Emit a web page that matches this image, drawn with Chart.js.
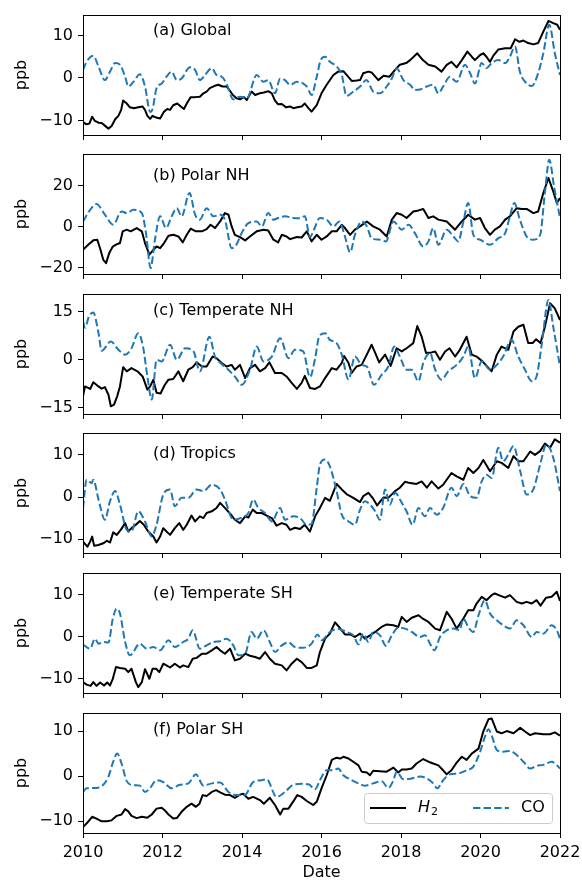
<!DOCTYPE html>
<html>
<head>
<meta charset="utf-8">
<script src="https://cdn.jsdelivr.net/npm/chart.js@4.4.1/dist/chart.umd.min.js"></script>
<style>
  body { margin: 0; background: #fff; width: 582px; height: 881px; position: relative; overflow: hidden; }
  canvas { position: absolute; left: 0; }
</style>
</head>
<body>
<script>
// Panels and axes
const panelNames = ['(a) Global', '(b) Polar NH', '(c) Temperate NH', '(d) Tropics', '(e) Temperate SH', '(f) Polar SH'];
const xTicks = [2010, 2012, 2014, 2016, 2018, 2020, 2022];
const yTicks = [[-10, 0, 10], [-20, 0, 20], [-15, 0, 15], [-10, 0, 10], [-10, 0, 10], [-10, 0, 10]];
const yLimits = [[-13.4, 14.8], [-23.2, 35.3], [-16.9, 20.5], [-13.3, 15.2], [-13.5, 15.2], [-12.6, 14.0]];

// Anomalies as [decimal year, ppb]
const globalH2 = [[2010.00,-10.4],[2010.09,-10.9],[2010.16,-10.7],[2010.23,-9.1],[2010.30,-10.1],[2010.39,-10.5],[2010.47,-10.6],[2010.55,-11.2],[2010.64,-11.9],[2010.72,-11.3],[2010.81,-9.7],[2010.89,-8.9],[2010.96,-7.5],[2011.01,-5.3],[2011.10,-6.0],[2011.18,-6.9],[2011.28,-7.1],[2011.39,-6.9],[2011.50,-6.7],[2011.56,-7.5],[2011.62,-8.9],[2011.69,-9.6],[2011.75,-8.9],[2011.84,-9.3],[2011.94,-9.5],[2012.04,-7.9],[2012.12,-7.3],[2012.19,-7.5],[2012.27,-6.4],[2012.37,-6.0],[2012.46,-6.7],[2012.54,-7.3],[2012.61,-6.0],[2012.71,-4.5],[2012.82,-4.5],[2012.94,-4.4],[2013.03,-3.6],[2013.11,-3.2],[2013.19,-2.4],[2013.30,-1.9],[2013.40,-1.6],[2013.51,-2.0],[2013.61,-2.0],[2013.68,-2.8],[2013.77,-4.0],[2013.87,-4.8],[2013.95,-5.0],[2014.05,-4.5],[2014.12,-5.2],[2014.24,-3.2],[2014.33,-4.0],[2014.45,-3.6],[2014.55,-3.4],[2014.66,-3.1],[2014.75,-3.6],[2014.83,-5.3],[2014.91,-6.2],[2015.00,-6.1],[2015.11,-6.9],[2015.21,-6.7],[2015.29,-7.1],[2015.39,-6.9],[2015.50,-6.7],[2015.58,-6.0],[2015.67,-7.1],[2015.75,-7.9],[2015.88,-6.4],[2016.00,-3.6],[2016.13,-1.6],[2016.30,0.7],[2016.42,1.5],[2016.55,1.6],[2016.67,0.3],[2016.76,-0.7],[2016.88,-0.6],[2016.97,-0.5],[2017.05,1.1],[2017.18,1.5],[2017.26,1.3],[2017.43,-0.5],[2017.56,0.5],[2017.71,0.3],[2017.85,1.9],[2017.97,3.1],[2018.13,3.5],[2018.23,4.2],[2018.41,5.8],[2018.55,4.2],[2018.69,3.1],[2018.86,2.7],[2019.02,1.5],[2019.15,3.1],[2019.27,3.8],[2019.40,2.5],[2019.53,4.2],[2019.67,6.2],[2019.78,5.0],[2019.86,4.2],[2019.99,5.4],[2020.07,5.8],[2020.15,5.0],[2020.24,3.8],[2020.32,5.2],[2020.45,6.7],[2020.62,7.0],[2020.76,7.0],[2020.87,9.1],[2020.98,8.5],[2021.08,8.8],[2021.20,8.2],[2021.33,7.9],[2021.45,8.2],[2021.58,10.9],[2021.71,13.4],[2021.83,12.9],[2021.93,12.5],[2022.00,11.3]];
const globalCO = [[2010.00,1.9],[2010.09,3.8],[2010.26,5.2],[2010.39,2.7],[2010.55,-0.5],[2010.68,1.5],[2010.81,3.5],[2010.93,3.1],[2011.06,0.3],[2011.14,-2.0],[2011.27,-0.9],[2011.43,0.9],[2011.56,-2.0],[2011.69,-8.0],[2011.75,-7.3],[2011.85,-2.4],[2011.98,-1.3],[2012.10,0.3],[2012.23,1.5],[2012.36,-0.5],[2012.48,-0.1],[2012.69,2.5],[2012.82,1.9],[2012.94,-0.5],[2013.07,0.7],[2013.24,2.3],[2013.36,0.7],[2013.49,0.3],[2013.61,-1.3],[2013.78,-5.0],[2013.95,-4.4],[2014.12,-4.8],[2014.37,0.7],[2014.54,-0.9],[2014.66,-0.5],[2014.83,-3.6],[2014.96,-0.1],[2015.08,-0.5],[2015.21,-1.6],[2015.38,-0.9],[2015.54,-1.3],[2015.63,-2.0],[2015.75,-4.0],[2015.88,0.3],[2015.98,4.2],[2016.09,5.0],[2016.21,3.8],[2016.38,2.7],[2016.51,0.7],[2016.63,-4.2],[2016.80,-3.2],[2016.97,-2.0],[2017.13,-0.5],[2017.30,-3.2],[2017.47,-3.6],[2017.64,-2.0],[2017.77,-0.1],[2017.89,2.3],[2018.06,-0.5],[2018.23,-1.6],[2018.35,-2.8],[2018.48,-2.7],[2018.65,-2.0],[2018.81,-1.6],[2018.94,-3.6],[2019.06,-2.0],[2019.23,0.3],[2019.40,-0.9],[2019.61,3.1],[2019.74,1.1],[2019.86,-1.3],[2020.03,3.5],[2020.15,2.3],[2020.28,3.5],[2020.45,4.2],[2020.62,3.5],[2020.74,5.0],[2020.87,7.4],[2020.99,1.5],[2021.16,-1.3],[2021.29,-1.9],[2021.45,1.1],[2021.58,5.8],[2021.73,12.5],[2021.87,5.8],[2022.00,0.7]];

const polarNhH2 = [[2010.00,-11.4],[2010.13,-8.9],[2010.26,-6.8],[2010.36,-6.5],[2010.44,-11.4],[2010.51,-16.3],[2010.58,-17.9],[2010.66,-13.0],[2010.75,-9.8],[2010.83,-8.9],[2010.93,-8.1],[2011.00,-2.4],[2011.10,-1.6],[2011.20,-2.4],[2011.35,-0.8],[2011.48,-2.4],[2011.56,-8.1],[2011.67,-13.8],[2011.77,-11.4],[2011.85,-9.8],[2011.94,-10.6],[2012.04,-8.1],[2012.15,-4.6],[2012.27,-4.1],[2012.40,-4.9],[2012.51,-7.8],[2012.61,-4.1],[2012.71,-1.1],[2012.84,-2.4],[2012.99,-2.4],[2013.11,-1.3],[2013.21,0.8],[2013.32,-0.8],[2013.45,2.4],[2013.57,6.5],[2013.66,5.7],[2013.74,0.0],[2013.82,-4.1],[2013.95,-5.2],[2014.08,-6.8],[2014.20,-4.9],[2014.37,-2.4],[2014.54,-1.6],[2014.66,-2.0],[2014.79,-6.5],[2014.91,-7.8],[2015.00,-4.1],[2015.12,-4.9],[2015.21,-6.2],[2015.38,-5.2],[2015.50,-5.4],[2015.63,-2.4],[2015.75,-7.3],[2015.88,-4.1],[2016.00,-6.5],[2016.13,-4.9],[2016.26,-2.4],[2016.38,-2.4],[2016.51,0.8],[2016.59,-0.8],[2016.72,-4.1],[2016.84,-1.6],[2016.97,0.0],[2017.14,2.4],[2017.30,0.0],[2017.47,-1.6],[2017.64,-4.9],[2017.77,3.3],[2017.89,6.5],[2018.02,5.7],[2018.14,4.1],[2018.31,7.3],[2018.44,7.8],[2018.56,8.5],[2018.69,4.1],[2018.81,4.9],[2018.94,3.3],[2019.15,2.4],[2019.36,-1.6],[2019.53,2.4],[2019.69,5.7],[2019.86,3.3],[2019.99,4.1],[2020.11,-0.8],[2020.24,-4.1],[2020.36,-1.6],[2020.49,0.0],[2020.62,3.3],[2020.74,4.9],[2020.91,8.9],[2021.04,8.5],[2021.16,8.5],[2021.33,6.5],[2021.45,7.3],[2021.58,16.3],[2021.71,23.6],[2021.83,17.1],[2021.92,11.4],[2022.00,13.8]];
const polarNhCO = [[2010.00,2.4],[2010.18,8.1],[2010.34,10.9],[2010.55,5.7],[2010.76,0.8],[2010.97,7.3],[2011.10,6.5],[2011.27,8.1],[2011.48,6.5],[2011.59,-4.1],[2011.70,-20.3],[2011.81,-6.5],[2011.94,4.9],[2012.09,-0.8],[2012.23,4.9],[2012.36,8.9],[2012.48,4.9],[2012.68,16.3],[2012.82,5.7],[2012.94,3.3],[2013.11,8.9],[2013.28,4.9],[2013.45,5.7],[2013.57,3.3],[2013.74,-10.6],[2013.86,-8.9],[2013.99,-3.3],[2014.16,1.6],[2014.37,2.4],[2014.50,0.0],[2014.66,6.5],[2014.79,3.3],[2014.91,4.1],[2015.08,4.9],[2015.29,4.1],[2015.46,4.0],[2015.58,5.0],[2015.71,-5.2],[2015.80,-2.0],[2015.96,4.1],[2016.13,3.3],[2016.30,0.0],[2016.45,2.4],[2016.59,-4.9],[2016.72,-12.7],[2016.84,-4.1],[2017.01,2.4],[2017.14,0.0],[2017.26,-5.7],[2017.47,-6.5],[2017.62,-7.3],[2017.81,2.4],[2018.02,-1.6],[2018.19,0.8],[2018.35,-3.3],[2018.56,-9.8],[2018.69,-7.3],[2018.81,-0.8],[2018.94,-8.9],[2019.15,-1.6],[2019.32,-4.9],[2019.44,-7.3],[2019.57,2.4],[2019.69,11.4],[2019.82,-4.1],[2019.99,-6.5],[2020.24,-8.9],[2020.45,-5.7],[2020.62,-3.3],[2020.74,4.9],[2020.85,11.4],[2020.99,3.3],[2021.16,-4.9],[2021.33,-6.5],[2021.50,-4.1],[2021.62,16.3],[2021.73,32.5],[2021.85,19.5],[2022.00,4.1]];

const tempNhH2 = [[2010.00,-11.4],[2010.05,-8.3],[2010.18,-9.1],[2010.26,-7.0],[2010.39,-8.3],[2010.47,-9.0],[2010.55,-8.5],[2010.64,-10.9],[2010.70,-14.5],[2010.78,-14.0],[2010.86,-11.4],[2010.93,-8.3],[2011.01,-2.3],[2011.10,-3.6],[2011.22,-2.6],[2011.37,-3.6],[2011.50,-5.2],[2011.62,-9.3],[2011.69,-8.3],[2011.77,-6.2],[2011.85,-10.3],[2011.95,-10.5],[2012.06,-7.8],[2012.15,-6.2],[2012.27,-6.0],[2012.40,-3.6],[2012.52,-6.7],[2012.65,-3.1],[2012.76,-2.3],[2012.86,-0.8],[2012.99,-2.1],[2013.11,-2.1],[2013.26,1.0],[2013.36,0.5],[2013.49,-1.0],[2013.61,-2.1],[2013.74,-1.6],[2013.82,-3.1],[2013.95,-1.6],[2014.08,-5.7],[2014.20,-2.6],[2014.33,-1.6],[2014.45,-3.6],[2014.58,-2.6],[2014.69,-0.8],[2014.83,-4.1],[2015.00,-4.1],[2015.12,-5.2],[2015.25,-7.2],[2015.38,-9.1],[2015.50,-7.2],[2015.58,-5.0],[2015.71,-8.8],[2015.84,-9.1],[2015.96,-8.3],[2016.09,-5.7],[2016.26,-2.6],[2016.38,-3.1],[2016.51,-1.0],[2016.57,1.2],[2016.68,-1.0],[2016.76,-4.1],[2016.88,-2.1],[2017.01,-1.6],[2017.14,1.6],[2017.26,4.7],[2017.37,1.6],[2017.45,-0.8],[2017.60,1.6],[2017.74,-1.9],[2017.89,3.6],[2018.02,2.6],[2018.14,3.6],[2018.31,5.2],[2018.41,10.5],[2018.52,7.2],[2018.63,2.1],[2018.77,2.3],[2018.86,2.6],[2018.98,0.0],[2019.11,2.6],[2019.22,3.6],[2019.36,1.0],[2019.48,3.1],[2019.65,7.2],[2019.78,1.6],[2019.90,1.0],[2020.05,-0.5],[2020.28,-3.6],[2020.41,1.6],[2020.53,4.1],[2020.70,3.1],[2020.83,8.8],[2020.95,10.3],[2021.08,10.9],[2021.20,5.2],[2021.31,5.2],[2021.40,6.4],[2021.51,5.2],[2021.62,10.3],[2021.75,17.6],[2021.87,16.0],[2022.00,12.4]];
const tempNhCO = [[2010.00,12.0],[2010.05,10.0],[2010.15,13.5],[2010.26,14.7],[2010.39,8.3],[2010.47,2.8],[2010.70,5.7],[2010.89,3.1],[2011.06,1.6],[2011.22,3.6],[2011.39,8.3],[2011.51,4.1],[2011.62,-5.2],[2011.73,-12.4],[2011.85,0.0],[2011.98,-0.5],[2012.19,4.7],[2012.36,0.0],[2012.57,3.6],[2012.78,2.6],[2012.94,-3.6],[2013.18,7.2],[2013.32,1.0],[2013.46,-1.0],[2013.61,-2.6],[2013.82,-5.2],[2013.99,-7.8],[2014.20,-3.1],[2014.37,4.1],[2014.54,-0.5],[2014.75,1.0],[2014.96,6.7],[2015.17,0.5],[2015.33,3.1],[2015.54,2.6],[2015.71,-5.4],[2015.84,0.5],[2015.94,7.2],[2016.09,8.3],[2016.21,6.2],[2016.38,5.2],[2016.51,1.6],[2016.68,-6.2],[2016.84,1.0],[2017.01,-1.6],[2017.14,-2.1],[2017.32,-7.8],[2017.51,-4.7],[2017.68,-2.1],[2017.83,4.1],[2017.97,1.0],[2018.14,-3.1],[2018.27,-3.1],[2018.44,-6.7],[2018.56,-1.0],[2018.73,2.1],[2018.86,-3.1],[2019.02,-6.2],[2019.19,-3.6],[2019.40,-1.6],[2019.57,1.0],[2019.69,4.1],[2019.86,-5.7],[2020.03,-0.5],[2020.24,-3.1],[2020.41,-1.6],[2020.57,1.0],[2020.78,6.2],[2020.95,1.0],[2021.12,-3.1],[2021.29,-6.7],[2021.41,-5.2],[2021.54,4.7],[2021.71,18.6],[2021.83,10.3],[2022.00,-2.1]];

const tropicsH2 = [[2010.00,-10.6],[2010.11,-11.8],[2010.18,-10.6],[2010.23,-9.4],[2010.28,-11.6],[2010.39,-11.4],[2010.51,-11.0],[2010.60,-10.4],[2010.68,-10.8],[2010.76,-8.4],[2010.85,-9.0],[2010.95,-7.8],[2011.06,-6.2],[2011.14,-8.2],[2011.22,-7.4],[2011.33,-6.6],[2011.43,-5.7],[2011.53,-6.6],[2011.64,-8.2],[2011.77,-9.4],[2011.85,-10.8],[2011.94,-9.4],[2012.02,-7.4],[2012.10,-8.2],[2012.19,-9.0],[2012.31,-7.4],[2012.42,-6.2],[2012.52,-7.8],[2012.61,-6.6],[2012.73,-4.4],[2012.82,-5.8],[2012.94,-4.6],[2013.03,-5.0],[2013.11,-3.8],[2013.24,-3.4],[2013.36,-2.6],[2013.45,-1.4],[2013.61,-3.0],[2013.74,-4.4],[2013.82,-5.4],[2013.95,-6.2],[2014.08,-4.6],[2014.16,-4.9],[2014.27,-3.0],[2014.37,-3.8],[2014.50,-3.8],[2014.62,-4.4],[2014.75,-5.0],[2014.87,-6.8],[2015.00,-6.2],[2015.12,-6.6],[2015.21,-7.8],[2015.33,-7.3],[2015.46,-7.6],[2015.58,-6.6],[2015.71,-8.2],[2015.84,-4.6],[2015.96,-2.6],[2016.09,-0.2],[2016.21,-0.9],[2016.38,3.1],[2016.51,1.8],[2016.63,0.7],[2016.80,-0.2],[2016.97,-1.2],[2017.05,0.2],[2017.18,1.0],[2017.30,-0.4],[2017.40,-2.0],[2017.56,-0.1],[2017.68,-0.2],[2017.85,1.4],[2017.97,2.2],[2018.10,3.6],[2018.23,3.3],[2018.39,3.1],[2018.52,3.7],[2018.65,2.2],[2018.77,3.7],[2018.94,2.0],[2019.06,2.9],[2019.27,5.7],[2019.40,4.9],[2019.57,4.1],[2019.69,6.9],[2019.82,5.7],[2019.95,6.9],[2020.07,8.8],[2020.24,6.1],[2020.41,8.5],[2020.53,8.1],[2020.70,6.9],[2020.83,9.7],[2020.95,8.5],[2021.08,8.5],[2021.25,10.8],[2021.37,10.0],[2021.50,10.9],[2021.62,12.7],[2021.75,11.7],[2021.87,13.7],[2022.00,12.9]];
const tropicsCO = [[2010.00,-2.6],[2010.09,4.1],[2010.22,3.3],[2010.26,4.1],[2010.39,-0.6],[2010.55,-5.4],[2010.68,-1.0],[2010.81,1.4],[2010.93,-1.8],[2011.10,-7.8],[2011.22,-8.2],[2011.39,-3.4],[2011.56,-5.8],[2011.73,-9.4],[2011.85,-6.6],[2012.02,0.6],[2012.19,1.8],[2012.31,-2.2],[2012.48,-0.2],[2012.65,-0.2],[2012.86,1.8],[2013.03,1.4],[2013.24,2.9],[2013.45,1.8],[2013.57,-0.6],[2013.78,-5.4],[2013.99,-4.9],[2014.16,-3.8],[2014.28,-0.6],[2014.41,-2.6],[2014.58,-3.8],[2014.75,-5.8],[2014.96,-2.6],[2015.08,-5.4],[2015.29,-4.6],[2015.46,-5.0],[2015.63,-6.6],[2015.75,-6.4],[2015.88,2.2],[2015.96,7.7],[2016.09,8.9],[2016.21,7.3],[2016.38,1.4],[2016.51,-4.2],[2016.68,-5.8],[2016.84,-6.6],[2016.97,-3.0],[2017.09,-1.0],[2017.22,-1.8],[2017.35,-3.4],[2017.47,-5.4],[2017.60,1.8],[2017.72,-1.8],[2017.85,1.0],[2018.02,-1.4],[2018.14,-3.4],[2018.29,-6.6],[2018.44,-2.6],[2018.60,-4.6],[2018.73,-2.6],[2018.90,-4.2],[2019.06,-2.6],[2019.27,2.2],[2019.40,0.2],[2019.57,3.1],[2019.74,0.2],[2019.90,-0.2],[2020.03,3.7],[2020.15,5.3],[2020.28,4.5],[2020.45,11.7],[2020.57,8.5],[2020.70,10.1],[2020.83,12.1],[2021.00,6.1],[2021.16,0.6],[2021.33,1.8],[2021.50,7.7],[2021.66,12.5],[2021.83,9.3],[2022.00,1.4]];

const tempShH2 = [[2010.00,-10.9],[2010.09,-11.5],[2010.19,-11.8],[2010.26,-10.9],[2010.34,-11.8],[2010.43,-11.0],[2010.53,-11.7],[2010.61,-11.0],[2010.68,-11.7],[2010.75,-10.1],[2010.83,-7.3],[2010.93,-7.5],[2011.06,-7.7],[2011.14,-8.5],[2011.22,-7.7],[2011.33,-10.9],[2011.39,-12.1],[2011.48,-10.9],[2011.56,-7.8],[2011.67,-10.1],[2011.75,-7.7],[2011.84,-7.7],[2011.92,-8.5],[2012.02,-6.5],[2012.10,-6.9],[2012.19,-7.4],[2012.31,-6.5],[2012.44,-7.4],[2012.52,-6.9],[2012.65,-7.3],[2012.76,-5.3],[2012.86,-5.1],[2012.99,-4.1],[2013.11,-4.1],[2013.24,-3.3],[2013.36,-2.5],[2013.45,-3.3],[2013.57,-4.1],[2013.70,-2.9],[2013.82,-5.7],[2013.95,-5.3],[2014.08,-4.1],[2014.20,-4.6],[2014.33,-4.9],[2014.45,-5.3],[2014.58,-3.7],[2014.70,-5.3],[2014.83,-6.5],[2015.00,-6.9],[2015.12,-8.1],[2015.25,-6.5],[2015.38,-5.3],[2015.50,-6.1],[2015.63,-7.5],[2015.75,-7.5],[2015.88,-6.9],[2015.96,-3.7],[2016.09,-0.5],[2016.21,0.7],[2016.34,3.4],[2016.46,2.1],[2016.59,0.5],[2016.72,0.5],[2016.84,-0.1],[2016.97,0.7],[2017.09,-0.5],[2017.22,0.3],[2017.35,1.1],[2017.51,2.3],[2017.64,2.9],[2017.81,2.7],[2017.93,2.3],[2018.02,4.7],[2018.14,3.5],[2018.27,4.5],[2018.44,5.1],[2018.56,4.2],[2018.69,3.5],[2018.86,1.9],[2018.98,1.5],[2019.15,5.9],[2019.27,4.3],[2019.40,1.9],[2019.57,4.3],[2019.69,6.3],[2019.82,6.3],[2019.90,7.9],[2020.03,9.5],[2020.15,8.7],[2020.28,9.9],[2020.36,10.3],[2020.49,9.8],[2020.62,9.3],[2020.74,9.9],[2020.91,8.3],[2021.04,7.9],[2021.16,8.3],[2021.29,7.9],[2021.41,8.7],[2021.51,7.4],[2021.65,9.3],[2021.79,9.5],[2021.92,10.7],[2022.00,8.5]];
const tempShCO = [[2010.00,-1.9],[2010.18,-2.9],[2010.30,-0.5],[2010.39,-1.7],[2010.51,-1.3],[2010.64,-1.4],[2010.75,4.3],[2010.85,6.7],[2010.93,5.5],[2011.06,-1.3],[2011.18,-4.5],[2011.43,-1.7],[2011.60,-2.9],[2011.77,-2.5],[2011.94,-3.3],[2012.15,-0.9],[2012.31,-2.5],[2012.52,-1.3],[2012.65,-0.5],[2012.76,1.5],[2012.94,-2.9],[2013.11,-2.1],[2013.28,-1.3],[2013.45,-1.1],[2013.61,-0.5],[2013.78,-2.1],[2013.91,-4.5],[2014.08,-4.1],[2014.24,1.1],[2014.37,-0.5],[2014.54,1.5],[2014.70,-1.3],[2014.83,-3.7],[2015.00,-2.1],[2015.17,-1.4],[2015.33,-2.5],[2015.54,-2.7],[2015.75,-1.7],[2015.90,0.5],[2016.00,-0.9],[2016.21,1.1],[2016.42,1.8],[2016.63,1.1],[2016.80,0.3],[2016.93,-1.9],[2017.05,0.7],[2017.18,-1.3],[2017.30,1.1],[2017.47,0.3],[2017.62,-2.2],[2017.77,0.3],[2017.93,2.1],[2018.10,1.9],[2018.27,1.1],[2018.48,-0.1],[2018.60,0.3],[2018.73,-1.7],[2018.84,-3.3],[2018.98,-0.1],[2019.15,1.5],[2019.32,1.9],[2019.47,1.5],[2019.57,4.3],[2019.69,2.3],[2019.82,1.1],[2019.95,5.1],[2020.11,8.7],[2020.24,5.5],[2020.41,3.9],[2020.57,2.7],[2020.74,1.9],[2020.91,3.9],[2021.08,2.7],[2021.29,-0.1],[2021.41,1.1],[2021.58,0.7],[2021.79,2.7],[2021.92,1.5],[2022.00,-0.5]];

const polarShH2 = [[2010.00,-11.3],[2010.13,-10.1],[2010.23,-9.0],[2010.34,-9.4],[2010.47,-10.0],[2010.60,-10.0],[2010.72,-9.8],[2010.85,-8.8],[2010.97,-8.5],[2011.06,-7.3],[2011.14,-7.8],[2011.22,-8.8],[2011.35,-9.3],[2011.48,-9.0],[2011.62,-9.2],[2011.73,-8.5],[2011.85,-7.2],[2011.98,-7.0],[2012.06,-7.6],[2012.15,-8.5],[2012.27,-9.4],[2012.36,-9.3],[2012.48,-7.9],[2012.61,-6.8],[2012.73,-6.1],[2012.84,-6.8],[2012.93,-6.1],[2013.01,-4.2],[2013.11,-4.4],[2013.24,-3.5],[2013.35,-3.1],[2013.45,-3.6],[2013.57,-4.1],[2013.70,-4.2],[2013.82,-4.8],[2013.95,-4.1],[2014.03,-3.9],[2014.16,-5.0],[2014.28,-4.6],[2014.45,-5.3],[2014.55,-6.1],[2014.70,-4.8],[2014.83,-6.4],[2014.96,-8.5],[2015.04,-7.2],[2015.17,-7.2],[2015.29,-5.6],[2015.39,-4.2],[2015.50,-4.6],[2015.63,-5.5],[2015.79,-6.4],[2015.88,-5.7],[2016.00,-2.7],[2016.13,0.2],[2016.26,3.6],[2016.38,4.1],[2016.47,3.9],[2016.55,4.3],[2016.68,3.9],[2016.80,3.2],[2016.93,2.4],[2017.01,1.0],[2017.14,0.8],[2017.22,0.2],[2017.30,1.2],[2017.47,1.1],[2017.64,1.0],[2017.81,1.9],[2017.93,0.8],[2018.02,1.5],[2018.14,1.5],[2018.27,1.7],[2018.39,2.8],[2018.56,3.8],[2018.69,3.2],[2018.81,2.8],[2018.94,2.4],[2019.06,1.3],[2019.15,0.4],[2019.27,1.3],[2019.40,3.0],[2019.53,4.3],[2019.65,3.6],[2019.78,5.0],[2019.95,6.1],[2020.07,9.9],[2020.20,12.6],[2020.28,12.8],[2020.41,9.9],[2020.53,9.5],[2020.66,10.0],[2020.83,9.5],[2021.00,10.7],[2021.12,9.9],[2021.25,9.1],[2021.37,9.5],[2021.58,9.3],[2021.75,9.3],[2021.87,9.7],[2022.00,9.0]];
const polarShCO = [[2010.00,-3.5],[2010.09,-2.7],[2010.34,-2.6],[2010.51,-1.9],[2010.64,-0.1],[2010.76,3.2],[2010.86,5.0],[2010.97,2.8],[2011.10,-1.1],[2011.27,-2.0],[2011.43,-2.1],[2011.56,-3.5],[2011.68,-2.7],[2011.85,-0.9],[2012.02,-1.3],[2012.23,-2.7],[2012.44,-1.9],[2012.65,-1.6],[2012.84,0.4],[2013.03,-2.1],[2013.24,-1.6],[2013.45,-1.4],[2013.66,-3.5],[2013.87,-4.2],[2014.08,-4.1],[2014.28,-1.3],[2014.50,-0.9],[2014.62,-0.7],[2014.87,-4.6],[2015.08,-3.5],[2015.29,-1.9],[2015.50,-1.7],[2015.67,-1.8],[2015.84,-2.9],[2015.96,-0.9],[2016.13,1.3],[2016.30,1.3],[2016.42,1.7],[2016.55,0.2],[2016.72,-0.7],[2016.93,-1.6],[2017.09,-2.1],[2017.30,-1.6],[2017.51,-1.1],[2017.68,-2.6],[2017.81,-0.9],[2017.89,1.0],[2018.06,-0.7],[2018.27,-0.5],[2018.48,-0.1],[2018.65,-0.5],[2018.81,-1.6],[2018.91,-2.7],[2019.06,-0.9],[2019.23,0.4],[2019.44,0.6],[2019.65,1.3],[2019.82,2.1],[2019.99,5.4],[2020.11,8.7],[2020.20,10.4],[2020.28,9.1],[2020.41,5.8],[2020.57,5.4],[2020.74,5.6],[2020.91,4.7],[2021.08,3.2],[2021.25,1.7],[2021.41,2.3],[2021.58,2.5],[2021.79,3.2],[2021.92,2.4],[2022.00,1.7]];

const seriesH2 = [globalH2, polarNhH2, tempNhH2, tropicsH2, tempShH2, polarShH2];
const seriesCO = [globalCO, polarNhCO, tempNhCO, tropicsCO, tempShCO, polarShCO];

// Layout (page pixels)
const panelTops = [15, 154, 294, 433, 573, 713];
const labelDy = [16, 22, 17, 21, 21, 17];
const FONT = 'DejaVu Sans';

const toXY = arr => arr.map(([x, y]) => ({ x, y }));
const fmt = v => (v < 0 ? '\u2212' + (-v) : String(v));

// Box around the axes and panel label
const frame = {
  id: 'frame',
  afterDraw(chart, args, opts) {
    const { ctx, chartArea: a } = chart;
    ctx.save();
    ctx.strokeStyle = '#000';
    ctx.lineWidth = 1;
    ctx.strokeRect(Math.round(a.left) + 0.5, Math.round(a.top) + 0.5,
      Math.round(a.right - a.left), Math.round(a.bottom - a.top));
    ctx.fillStyle = '#000';
    ctx.font = '16px "' + FONT + '"';
    ctx.textBaseline = 'middle';
    ctx.fillText(opts.label, a.left + 70, a.top + opts.dy);
    ctx.restore();
  }
};

// Legend in the lower right of the last panel
const legendBox = {
  id: 'legendBox',
  afterDraw(chart, args, opts) {
    if (!opts.show) return;
    const { ctx, chartArea: a } = chart;
    const w = 188, h = 30;
    const x = a.right - 8 - w, y = a.bottom - 10 - h, cy = y + h / 2;
    ctx.save();
    ctx.fillStyle = 'rgba(255,255,255,0.8)';
    ctx.strokeStyle = '#cccccc';
    ctx.lineWidth = 1;
    ctx.beginPath();
    ctx.roundRect(x + 0.5, y + 0.5, w, h, 3);
    ctx.fill();
    ctx.stroke();

    ctx.lineWidth = 2;
    ctx.strokeStyle = '#000';
    ctx.beginPath(); ctx.moveTo(x + 6, cy); ctx.lineTo(x + 42, cy); ctx.stroke();
    ctx.strokeStyle = '#1f77b4';
    ctx.setLineDash([7.4, 3.2]);
    ctx.beginPath(); ctx.moveTo(x + 109, cy); ctx.lineTo(x + 145, cy); ctx.stroke();
    ctx.setLineDash([]);

    ctx.fillStyle = '#000';
    ctx.textBaseline = 'middle';
    ctx.font = 'italic 16px "' + FONT + '"';
    ctx.fillText('H', x + 54, cy);
    const hw = ctx.measureText('H').width;
    ctx.font = '11px "' + FONT + '"';
    ctx.fillText('2', x + 54 + hw + 1, cy + 4);
    ctx.font = '16px "' + FONT + '"';
    ctx.fillText('CO', x + 157, cy);
    ctx.restore();
  }
};

panelNames.forEach((name, i) => {
  const last = i === panelNames.length - 1;
  const top = panelTops[i] - 10;
  const h = last ? 881 - top : 140;
  const canvas = document.createElement('canvas');
  canvas.width = 582;
  canvas.height = h;
  canvas.style.top = top + 'px';
  canvas.style.width = '582px';
  canvas.style.height = h + 'px';
  document.body.appendChild(canvas);

  new Chart(canvas, {
    type: 'line',
    data: {
      datasets: [
        {
          label: 'CO',
          data: toXY(seriesCO[i]),
          borderColor: '#1f77b4',
          borderWidth: 2,
          borderDash: [7.4, 3.2],
          pointRadius: 0,
          cubicInterpolationMode: 'monotone',
          order: 0
        },
        {
          label: 'H2',
          data: toXY(seriesH2[i]),
          borderColor: '#000',
          borderWidth: 2,
          borderJoinStyle: 'round',
          pointRadius: 0,
          tension: 0,
          order: 1
        }
      ]
    },
    options: {
      responsive: false,
      animation: false,
      events: [],
      layout: { padding: { left: 0, right: 22, top: 10, bottom: 0 } },
      plugins: {
        legend: { display: false },
        tooltip: { enabled: false },
        frame: { label: name, dy: labelDy[i] },
        legendBox: { show: last }
      },
      scales: {
        x: {
          type: 'linear',
          min: 2010,
          max: 2022,
          afterBuildTicks: s => { s.ticks = xTicks.map(v => ({ value: v })); },
          afterFit: s => { s.height = last ? 48 : 10; s.paddingLeft = 0; s.paddingRight = 0; },
          grid: { drawOnChartArea: false, drawTicks: true, tickLength: 5, color: '#000', lineWidth: 1 },
          border: { display: false },
          ticks: {
            display: last,
            autoSkip: false,
            maxRotation: 0,
            padding: 5,
            color: '#000',
            font: { family: FONT, size: 16 },
            callback: v => String(v)
          },
          title: {
            display: last,
            text: 'Date',
            color: '#000',
            padding: 0,
            font: { family: FONT, size: 16, lineHeight: 1 }
          }
        },
        y: {
          min: yLimits[i][0],
          max: yLimits[i][1],
          afterBuildTicks: s => { s.ticks = yTicks[i].map(v => ({ value: v })); },
          afterFit: s => { s.width = 83; s.paddingTop = 0; s.paddingBottom = 0; },
          grid: { drawOnChartArea: false, drawTicks: true, tickLength: 5, color: '#000', lineWidth: 1 },
          border: { display: false },
          ticks: {
            padding: 5,
            color: '#000',
            font: { family: FONT, size: 16 },
            callback: v => fmt(v)
          },
          title: {
            display: true,
            text: 'ppb',
            color: '#000',
            padding: { top: 12, bottom: 0 },
            font: { family: FONT, size: 16 }
          }
        }
      }
    },
    plugins: [frame, legendBox]
  });
});
</script>
</body>
</html>
